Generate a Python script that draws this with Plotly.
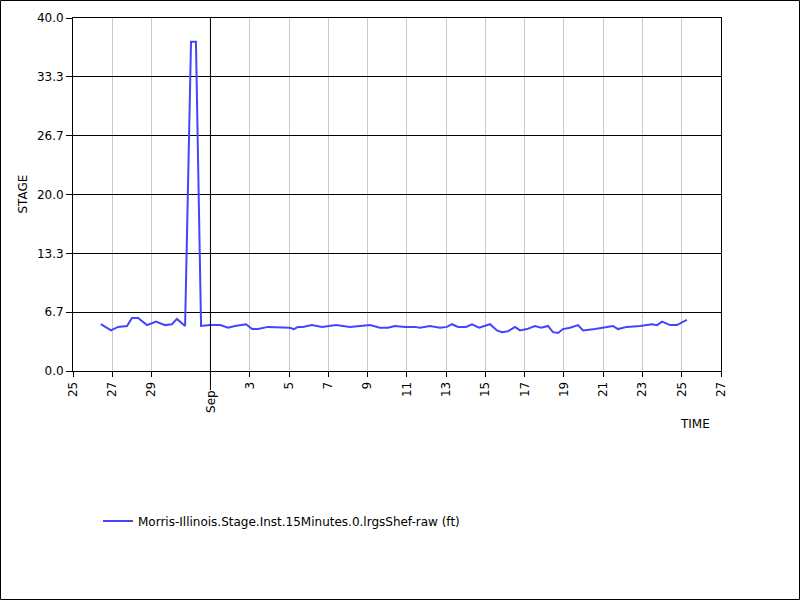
import plotly.graph_objects as go

# ---- data ----
times = [
    "2023-08-26 10:00", "2023-08-26 22:30", "2023-08-27 07:00", "2023-08-27 18:00",
    "2023-08-28 00:00", "2023-08-28 07:30", "2023-08-28 18:30", "2023-08-29 05:30",
    "2023-08-29 16:30", "2023-08-30 01:00", "2023-08-30 07:00", "2023-08-30 17:00",
    "2023-08-31 00:15", "2023-08-31 06:15", "2023-08-31 12:30", "2023-08-31 23:30",
    "2023-09-01 11:45", "2023-09-01 21:30", "2023-09-02 06:00", "2023-09-02 15:50",
    "2023-09-02 19:30", "2023-09-03 03:00", "2023-09-03 10:00", "2023-09-03 22:20",
    "2023-09-05 01:15", "2023-09-05 06:00", "2023-09-05 11:00", "2023-09-05 17:00",
    "2023-09-06 04:00", "2023-09-06 16:20", "2023-09-07 02:00", "2023-09-07 09:30",
    "2023-09-08 02:30", "2023-09-09 03:00", "2023-09-09 15:00", "2023-09-10 01:00",
    "2023-09-10 09:30", "2023-09-10 21:50", "2023-09-11 10:00", "2023-09-11 16:00",
    "2023-09-12 04:20", "2023-09-12 16:30", "2023-09-13 01:10", "2023-09-13 07:10",
    "2023-09-13 14:40", "2023-09-14 00:20", "2023-09-14 07:40", "2023-09-14 16:20",
    "2023-09-15 05:45", "2023-09-15 14:10", "2023-09-15 20:20", "2023-09-16 03:40",
    "2023-09-16 12:15", "2023-09-16 18:15", "2023-09-17 02:50", "2023-09-17 12:40",
    "2023-09-17 20:00", "2023-09-18 04:30", "2023-09-18 10:40", "2023-09-18 16:50",
    "2023-09-18 22:50", "2023-09-19 07:30", "2023-09-19 17:15", "2023-09-19 23:20",
    "2023-09-20 14:00", "2023-09-21 02:10", "2023-09-21 12:00", "2023-09-21 18:00",
    "2023-09-22 05:00", "2023-09-22 21:00", "2023-09-23 11:45", "2023-09-23 17:45",
    "2023-09-24 00:00", "2023-09-24 09:40", "2023-09-24 18:10", "2023-09-25 06:15",
]
stage = [
    5.3, 4.6, 5.0, 5.1,
    6.0, 6.0, 5.2, 5.6,
    5.2, 5.3, 5.9, 5.1,
    37.3, 37.3, 5.1, 5.2,
    5.2, 4.9, 5.1, 5.2,
    5.3, 4.75, 4.75, 5.0,
    4.9, 4.75, 5.0, 5.0,
    5.2, 5.0, 5.1, 5.2,
    5.0, 5.2, 4.9, 4.9,
    5.1, 5.0, 5.0, 4.9,
    5.1, 4.9, 5.0, 5.3,
    5.0, 5.0, 5.3, 4.9,
    5.3, 4.6, 4.4, 4.5,
    5.0, 4.6, 4.75, 5.1,
    4.9, 5.1, 4.4, 4.3,
    4.75, 4.9, 5.2, 4.6,
    4.75, 4.9, 5.1, 4.75,
    5.0, 5.1, 5.3, 5.2,
    5.6, 5.2, 5.2, 5.8,
]
series_name = "Morris-Illinois.Stage.Inst.15Minutes.0.lrgsShef-raw (ft)"

x_tick_vals = ["2023-08-25", "2023-08-27", "2023-08-29", "2023-09-01", "2023-09-03",
               "2023-09-05", "2023-09-07", "2023-09-09", "2023-09-11", "2023-09-13",
               "2023-09-15", "2023-09-17", "2023-09-19", "2023-09-21", "2023-09-23",
               "2023-09-25", "2023-09-27"]
x_tick_text = ["25", "27", "29", "", "3", "5", "7", "9", "11", "13", "15", "17",
               "19", "21", "23", "25", "27"]
month_label = "Sep"
month_date = "2023-09-01"
y_tick_vals = [0, 20 / 3, 40 / 3, 20, 80 / 3, 100 / 3, 40]
y_tick_text = ["0.0", "6.7", "13.3", "20.0", "26.7", "33.3", "40.0"]
x_range = ["2023-08-25", "2023-09-27"]
y_range = [0, 40]

FONT = "DejaVu Sans"

fig = go.Figure()
fig.add_trace(go.Scatter(
    x=times, y=stage, mode="lines", name=series_name,
    line=dict(color="#4444ff", width=2),
))

L, R, T, B = 73, 79, 18, 229
PW, PH = 800 - L - R, 600 - T - B

fig.update_layout(
    width=800, height=600,
    margin=dict(l=L, r=R, t=T, b=B, pad=0),
    paper_bgcolor="white", plot_bgcolor="white",
    font=dict(family=FONT, size=12, color="black"),
    showlegend=True,
    legend=dict(x=(98 - L) / PW, y=(371 - 521) / PH, xanchor="left", yanchor="middle",
                font=dict(family=FONT, size=12, color="black"), bgcolor="rgba(0,0,0,0)"),
    xaxis=dict(
        type="date", range=x_range, tickmode="array", tickvals=x_tick_vals,
        ticktext=x_tick_text, tickangle=-90, ticks="outside", ticklen=5,
        tickcolor="black", showgrid=True, gridcolor="#c8c8c8", gridwidth=1,
        showline=True, linecolor="black", linewidth=1, mirror=True,
        zeroline=False, tickfont=dict(family=FONT, size=12, color="black"),
    ),
    yaxis=dict(
        range=y_range, tickmode="array", tickvals=y_tick_vals, ticktext=y_tick_text,
        ticks="outside", ticklen=6, tickcolor="black", showgrid=True,
        gridcolor="black", gridwidth=1, showline=True, linecolor="black",
        linewidth=1, mirror=True, zeroline=False,
        tickfont=dict(family=FONT, size=12, color="black"),
    ),
)

# black month separator line (extends below axis)
fig.add_shape(type="line", xref="x", yref="paper", x0=month_date, x1=month_date,
              y0=-19 / PH, y1=1, line=dict(color="black", width=1), layer="above")
fig.add_annotation(x=month_date, xref="x", y=-(388 - 371) / PH, yref="paper",
                   text=month_label, textangle=-90, showarrow=False,
                   xanchor="center", yanchor="top",
                   font=dict(family=FONT, size=12, color="black"))
# axis titles
fig.add_annotation(x=(22 - L) / PW, xref="paper", y=0.5, yref="paper", text="STAGE",
                   textangle=-90, showarrow=False, xanchor="center", yanchor="middle",
                   font=dict(family=FONT, size=12, color="black"))
fig.add_annotation(x=(695 - L) / PW, xref="paper", y=(371 - 424) / PH, yref="paper",
                   text="TIME", showarrow=False, xanchor="center", yanchor="middle",
                   font=dict(family=FONT, size=12, color="black"))
# outer border of the image
fig.add_shape(type="rect", xref="paper", yref="paper",
              x0=(0.5 - L) / PW, x1=(799.5 - L) / PW,
              y0=(T + PH - 599.5) / PH, y1=(T + PH - 0.5) / PH,
              line=dict(color="black", width=1), fillcolor="rgba(0,0,0,0)")

fig.write_html("out.html", config={"displayModeBar": False},
               post_script="document.body.style.margin='0';")
